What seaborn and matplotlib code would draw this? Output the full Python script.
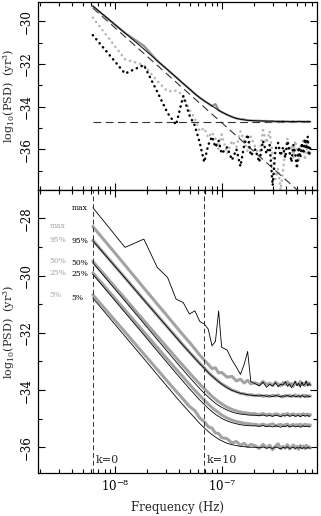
import numpy as np
import pandas as pd
import seaborn as sns
import matplotlib.pyplot as plt
from matplotlib.ticker import MultipleLocator, FixedLocator, LogLocator, NullFormatter

# harmonic index of each frequency bin, and the base frequency 1/T (Hz)
harm = [1, 2, 3, 4, 5, 6, 7, 8, 9, 10, 11, 12, 13, 14, 15, 16,
        18, 20, 22, 24, 26, 28, 30,
        33, 36, 39, 42, 45, 48, 51, 54, 57, 60, 63, 66, 69, 72, 75, 78,
        81, 84, 87, 90, 93, 96, 99, 102, 105, 108]
f_base = 6.2e-9

# ---- top panel: log10 PSD (yr^3)
top_model = [-29.28, -30.55, -31.30, -31.85, -32.27, -32.62, -32.92, -33.17, -33.40, -33.58, -33.73, -33.85,
             -33.97, -34.07, -34.17, -34.25,
             -34.38, -34.48, -34.55, -34.59, -34.62, -34.64, -34.65,
             -34.66, -34.67, -34.67, -34.68, -34.68, -34.68, -34.69, -34.69, -34.69, -34.69, -34.70, -34.70,
             -34.70, -34.70, -34.70, -34.70, -34.70, -34.70, -34.70, -34.70, -34.70, -34.70, -34.70, -34.70,
             -34.70, -34.70]
top_fit = [-29.30, -30.55, -31.15, -31.85, -32.27, -32.62, -32.92, -33.17, -33.40, -33.58, -33.73, -33.85,
           -33.97, -33.88, -34.17, -34.25,
           -34.38, -34.48, -34.55, -34.59, -34.60, -34.64, -34.65,
           -34.66, -34.66, -34.68, -34.67, -34.69, -34.68, -34.70, -34.69, -34.70, -34.68, -34.70, -34.69,
           -34.71, -34.70, -34.69, -34.71, -34.70, -34.70, -34.69, -34.71, -34.70, -34.70, -34.71, -34.69,
           -34.70, -34.71]
top_black_dots = [-30.65, -32.45, -32.05, -33.30, -34.30, -34.85, -33.50, -34.40, -34.90, -35.70, -36.60, -35.80,
                  -35.40, -35.90, -35.60, -36.20,
                  -35.90, -36.50, -36.00, -36.80, -35.80, -35.30, -36.30,
                  -36.00, -36.60, -35.60, -36.20, -35.80, -37.70, -36.00, -35.70, -36.30, -35.90, -36.40, -35.60,
                  -36.10, -36.60, -35.80, -36.20, -36.90, -35.90, -36.40, -35.70, -36.20, -35.50, -36.00, -35.40,
                  -36.30, -35.90]
top_gray_dots = [-29.83, -31.78, -32.05, -32.80, -33.28, -33.25, -33.45, -34.15, -34.55, -35.15, -35.00, -35.45,
                 -35.20, -35.50, -36.00, -35.30,
                 -36.20, -35.60, -35.90, -35.15, -35.60, -36.10, -35.40,
                 -35.90, -36.30, -35.10, -35.70, -35.15, -36.30, -37.40, -36.90, -37.90, -37.00, -36.00, -35.50,
                 -36.20, -35.80, -36.40, -35.60, -36.00, -36.60, -35.80, -36.10, -35.50, -36.50, -35.70, -36.20,
                 -35.80, -36.20]
white_level = -34.70
gwb_line = [-29.38, -38.45]   # power law guide at first and last bin

# ---- bottom panel: percentiles, black = thin, gray = thick
blk_max = [-27.62, -29.01, -28.72, -29.71, -30.06, -30.82, -30.94, -31.34, -31.23, -31.60, -31.69, -31.87,
           -32.45, -32.30, -31.23, -32.50,
           -32.60, -32.95, -33.20, -33.45, -33.10, -32.65, -33.70,
           -33.78, -33.85, -33.72, -33.90, -33.80, -33.86, -33.74, -33.88, -33.79, -33.83, -33.70, -33.87,
           -33.78, -33.92, -33.81, -33.69, -33.85, -33.76, -33.90, -33.72, -33.84, -33.79, -33.68, -33.86,
           -33.77, -33.83]
gry_max = [-28.28, -29.63, -30.43, -30.99, -31.42, -31.78, -32.08, -32.33, -32.56, -32.78, -32.95, -33.10,
           -33.25, -33.22, -33.40, -33.38,
           -33.55, -33.52, -33.68, -33.62, -33.75, -33.66, -33.78,
           -33.74, -33.82, -33.70, -33.80, -33.76, -33.84, -33.72, -33.79, -33.85, -33.74, -33.80, -33.71,
           -33.83, -33.77, -33.86, -33.73, -33.79, -33.82, -33.70, -33.81, -33.76, -33.84, -33.72, -33.80,
           -33.75, -33.82]
blk_95 = [-28.78, -30.08, -30.85, -31.39, -31.81, -32.15, -32.44, -32.68, -32.89, -33.08, -33.24, -33.39,
          -33.51, -33.62, -33.71, -33.79,
          -33.92, -34.01, -34.07, -34.11, -34.14, -34.16, -34.18,
          -34.19, -34.21, -34.18, -34.22, -34.20, -34.23, -34.19, -34.21, -34.24, -34.20, -34.22, -34.18,
          -34.23, -34.21, -34.19, -34.24, -34.22, -34.20, -34.23, -34.19, -34.22, -34.25, -34.21, -34.20,
          -34.23, -34.22]
gry_95 = [-28.76, -30.07, -30.84, -31.38, -31.80, -32.14, -32.43, -32.67, -32.88, -33.06, -33.22, -33.38,
          -33.50, -33.60, -33.70, -33.78,
          -33.90, -34.00, -34.05, -34.12, -34.13, -34.17, -34.16,
          -34.20, -34.17, -34.22, -34.19, -34.23, -34.18, -34.21, -34.17, -34.22, -34.24, -34.19, -34.21,
          -34.18, -34.23, -34.20, -34.17, -34.22, -34.19, -34.24, -34.20, -34.18, -34.22, -34.19, -34.23,
          -34.20, -34.21]
blk_50 = [-29.55, -30.89, -31.67, -32.23, -32.66, -33.01, -33.30, -33.55, -33.76, -33.95, -34.11, -34.24,
          -34.36, -34.46, -34.54, -34.60,
          -34.70, -34.77, -34.81, -34.84, -34.85, -34.87, -34.88,
          -34.88, -34.90, -34.87, -34.91, -34.89, -34.92, -34.88, -34.90, -34.93, -34.89, -34.91, -34.87,
          -34.92, -34.90, -34.88, -34.92, -34.90, -34.89, -34.93, -34.90, -34.88, -34.91, -34.90, -34.89,
          -34.92, -34.90]
gry_50 = [-29.50, -30.80, -31.57, -32.11, -32.53, -32.87, -33.15, -33.40, -33.61, -33.79, -33.95, -34.09,
          -34.22, -34.32, -34.41, -34.48,
          -34.60, -34.68, -34.73, -34.77, -34.79, -34.81, -34.82,
          -34.83, -34.86, -34.82, -34.87, -34.84, -34.88, -34.83, -34.85, -34.89, -34.84, -34.86, -34.82,
          -34.87, -34.85, -34.83, -34.88, -34.86, -34.84, -34.89, -34.85, -34.83, -34.87, -34.86, -34.84,
          -34.88, -34.86]
blk_25 = [-29.95, -31.29, -32.07, -32.63, -33.06, -33.41, -33.70, -33.95, -34.16, -34.35, -34.50, -34.64,
          -34.75, -34.85, -34.92, -34.99,
          -35.08, -35.14, -35.18, -35.21, -35.23, -35.24, -35.25,
          -35.25, -35.27, -35.24, -35.28, -35.26, -35.29, -35.25, -35.27, -35.30, -35.26, -35.28, -35.24,
          -35.29, -35.27, -35.25, -35.29, -35.27, -35.26, -35.30, -35.27, -35.25, -35.28, -35.27, -35.26,
          -35.29, -35.27]
gry_25 = [-29.90, -31.20, -31.97, -32.51, -32.93, -33.27, -33.55, -33.80, -34.01, -34.19, -34.35, -34.49,
          -34.61, -34.71, -34.79, -34.87,
          -34.98, -35.05, -35.10, -35.13, -35.16, -35.17, -35.19,
          -35.20, -35.23, -35.19, -35.24, -35.21, -35.18, -35.25, -35.22, -35.20, -35.24, -35.21, -35.19,
          -35.26, -35.22, -35.20, -35.24, -35.21, -35.23, -35.19, -35.25, -35.22, -35.20, -35.24, -35.21,
          -35.23, -35.22]
blk_5 = [-30.78, -32.12, -32.90, -33.46, -33.89, -34.24, -34.53, -34.77, -34.98, -35.17, -35.32, -35.45,
         -35.56, -35.64, -35.72, -35.77,
         -35.86, -35.91, -35.94, -35.97, -35.98, -35.99, -36.00,
         -36.00, -36.02, -35.99, -36.03, -36.01, -36.04, -35.99, -36.02, -36.05, -36.00, -36.03, -35.98,
         -36.04, -36.02, -36.00, -36.04, -36.01, -36.03, -35.99, -36.05, -36.01, -36.02, -36.04, -36.00,
         -36.03, -36.02]
gry_5 = [-30.67, -31.97, -32.74, -33.28, -33.70, -34.04, -34.32, -34.57, -34.72, -34.98, -35.10, -35.28,
         -35.33, -35.50, -35.52, -35.66,
         -35.70, -35.85, -35.80, -35.93, -35.86, -35.98, -35.90,
         -35.95, -36.04, -35.90, -36.02, -35.93, -36.08, -35.96, -35.88, -36.05, -35.97, -36.03, -35.91,
         -36.06, -35.99, -35.92, -36.04, -35.97, -36.07, -35.94, -36.01, -35.96, -36.05, -35.93, -36.02,
         -35.98, -36.03]

gray_curves = [('max', gry_max), ('95%', gry_95), ('50%', gry_50), ('25%', gry_25), ('5%', gry_5)]
black_curves = [('max', blk_max), ('95%', blk_95), ('50%', blk_50), ('25%', blk_25), ('5%', blk_5)]
k_marks = [0, 10]
x_major = [1e-8, 1e-7]

freq = np.array(harm) * f_base
GRAY = '#a3a3a3'

sns.set_theme(style='ticks')
plt.rcParams['font.family'] = ['DejaVu Serif']
plt.rcParams['mathtext.fontset'] = 'dejavuserif'

fig = plt.figure(figsize=(3.21, 5.16), dpi=100)
ax1 = fig.add_axes([0.118, 0.632, 0.869, 0.364])
ax2 = fig.add_axes([0.118, 0.0833, 0.869, 0.5487])

# top panel
dots = (0, (0.1, 2.0))
sns.lineplot(x=freq, y=top_gray_dots, ax=ax1, color='#b5b5b5', lw=1.8, linestyle=dots,
             dash_capstyle='round', errorbar=None)
sns.lineplot(x=freq, y=top_black_dots, ax=ax1, color='black', lw=1.8, linestyle=dots,
             dash_capstyle='round', errorbar=None)
sns.lineplot(x=[freq[0], freq[-1]], y=[white_level, white_level], ax=ax1, color='#333333', lw=0.8,
             linestyle=(0, (7, 4)), errorbar=None)
sns.lineplot(x=[freq[0], freq[-1]], y=gwb_line, ax=ax1, color='#333333', lw=0.8,
             linestyle=(0, (7, 4)), errorbar=None)
sns.lineplot(x=freq, y=top_fit, ax=ax1, color='#909090', lw=1.6, errorbar=None)
sns.lineplot(x=freq, y=top_model, ax=ax1, color='black', lw=0.7, errorbar=None)
ax1.set_ylim(-37.9, -29.1)

# bottom panel
for name, vals in gray_curves:
    sns.lineplot(x=freq, y=vals, ax=ax2, color=GRAY, lw=2.2, errorbar=None)
for name, vals in black_curves:
    sns.lineplot(x=freq, y=vals, ax=ax2, color='black', lw=0.6, errorbar=None)
for kk in k_marks:
    ax2.axvline(freq[kk], color='#333333', lw=0.7, linestyle=(0, (5, 3)))
    ax2.text(freq[kk] * 1.06, -36.45, 'k=%d' % kk, fontsize=8, va='center', ha='left')
for name, vals in gray_curves:
    ax2.text(2.45e-9, vals[0], name, fontsize=5.5, color=GRAY, va='center', ha='left')
for name, vals in black_curves:
    ax2.text(3.9e-9, vals[0], name, fontsize=5.5, color='black', va='center', ha='left')
ax2.set_ylim(-36.9, -27.0)

for ax in (ax1, ax2):
    ax.set_xscale('log')
    ax.set_xlim(1.9e-9, 7.7e-7)
    ax.xaxis.set_major_locator(FixedLocator(x_major))
    ax.xaxis.set_minor_locator(LogLocator(base=10, subs=np.arange(2, 10)))
    ax.xaxis.set_minor_formatter(NullFormatter())
    ax.yaxis.set_major_locator(MultipleLocator(2))
    ax.yaxis.set_minor_locator(MultipleLocator(1))
    ax.tick_params(which='both', direction='in', top=True, right=True, colors='black', labelsize=8.5)
    ax.tick_params(which='major', length=5, width=0.8)
    ax.tick_params(which='minor', length=3, width=0.8)
    ax.tick_params(axis='y', which='major', pad=4)
    for lab in ax.get_yticklabels():
        lab.set_rotation(90)
        lab.set_va('center')
    for sp in ax.spines.values():
        sp.set_linewidth(0.9)
        sp.set_color('black')
    ax.set_ylabel(r'log$_{10}$(PSD)  (yr$^3$)', fontsize=8)
    ax.yaxis.set_label_coords(-0.076, 0.5)

ax1.tick_params(axis='x', labelbottom=False)
ax2.set_xlabel('Frequency (Hz)', fontsize=8.5, labelpad=5)

plt.savefig('out.png', dpi=100)
